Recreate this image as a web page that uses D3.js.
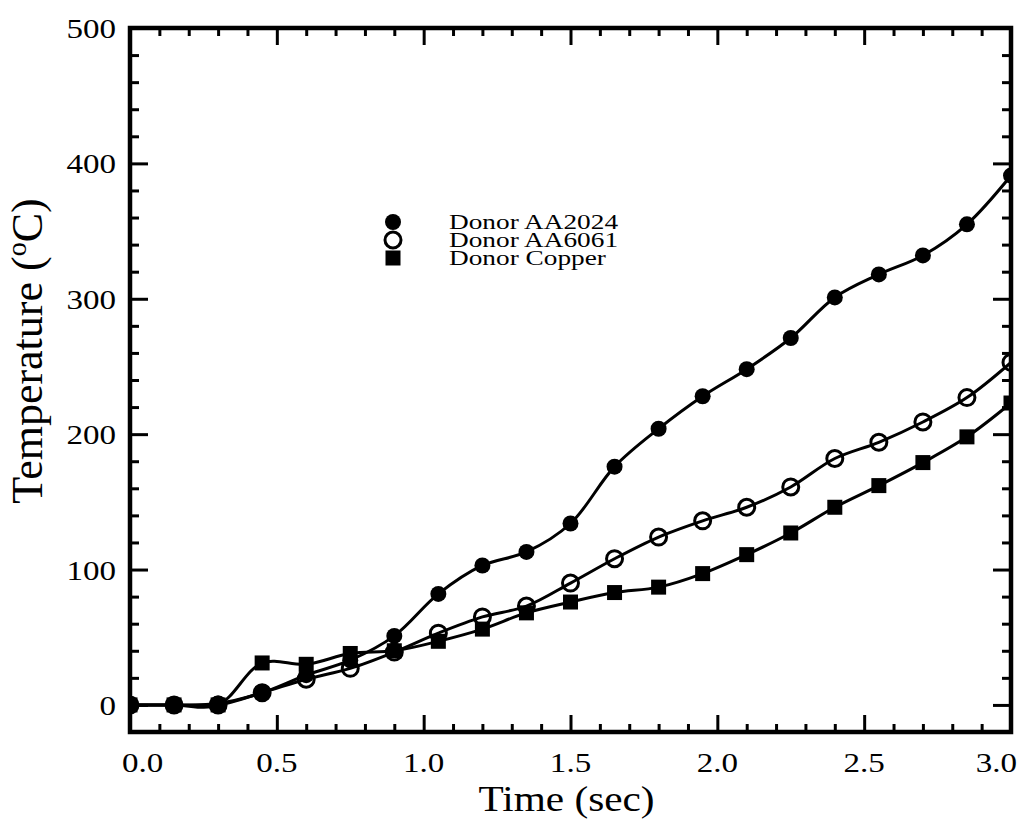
<!DOCTYPE html>
<html>
<head>
<meta charset="utf-8">
<script src="https://cdnjs.cloudflare.com/ajax/libs/d3/7.8.5/d3.min.js"></script>
<style>
  body { margin: 0; background: #fff; }
  svg { display: block; }
</style>
</head>
<body>
<div id="chart"></div>
<script>
// time (sec), sampled every 0.15 s
const times = [0, 0.15, 0.3, 0.45, 0.6, 0.75, 0.9, 1.05, 1.2, 1.35, 1.5, 1.65, 1.8, 1.95, 2.1, 2.25, 2.4, 2.55, 2.7, 2.85, 3.0];
// temperature (°C)
const aa2024 = [0, 0, 1, 9, 22, 33, 51, 82, 103, 113, 134, 176, 204, 228, 248, 271, 301, 318, 332, 355, 391];
const aa6061 = [0, 0, 0, 9, 19, 27, 39, 53, 65, 73, 90, 108, 124, 136, 146, 161, 182, 194, 209, 227, 253];
const copper = [0, 0, 0, 31, 30, 38, 40, 47, 56, 68, 76, 83, 87, 97, 111, 127, 146, 162, 179, 198, 223];

const seriesNames = ["Donor AA2024", "Donor AA6061", "Donor Copper"];
const xTickLabels = ["0.0", "0.5", "1.0", "1.5", "2.0", "2.5", "3.0"];
const yTickLabels = ["0", "100", "200", "300", "400", "500"];

const W = 1023, H = 828;
const margin = { top: 28, right: 12, bottom: 96, left: 130 };
const width = W - margin.left - margin.right;
const height = H - margin.top - margin.bottom;
const stretch = 1.18; // the original lettering is a bit wide
const serif = "Liberation Serif";

const svg = d3.select("#chart").append("svg")
    .attr("width", W).attr("height", H)
    .attr("font-family", serif);
const g = svg.append("g").attr("transform", `translate(${margin.left},${margin.top})`);

const x = d3.scaleLinear().domain([0, 3]).range([0, width]);
const y = d3.scaleLinear().domain([-20, 500]).range([height, 0]);

// ticks, all pointing inward
const xMinor = d3.range(0, 3.0001, 0.1).filter(v => Math.abs(v * 2 - Math.round(v * 2)) > 1e-6);
const xMajor = xTickLabels.map(Number);
const yMinor = d3.range(-20, 501, 20).filter(v => v % 100 !== 0);
const yMajor = yTickLabels.map(Number);

function tickGroup(axis, tr) {
    const a = g.append("g").attr("transform", tr).call(axis);
    a.select(".domain").remove();
    a.selectAll(".tick line").attr("stroke", "#000").attr("stroke-width", 3);
    a.selectAll(".tick text").remove();
}
tickGroup(d3.axisBottom(x).tickValues(xMinor).tickSize(-8), `translate(0,${height})`);
tickGroup(d3.axisBottom(x).tickValues(xMajor).tickSize(-17), `translate(0,${height})`);
tickGroup(d3.axisTop(x).tickValues(xMinor).tickSize(-8), "translate(0,0)");
tickGroup(d3.axisTop(x).tickValues(xMajor).tickSize(-17), "translate(0,0)");
tickGroup(d3.axisLeft(y).tickValues(yMinor).tickSize(-9), "translate(0,0)");
tickGroup(d3.axisLeft(y).tickValues(yMajor).tickSize(-18), "translate(0,0)");
tickGroup(d3.axisRight(y).tickValues(yMinor).tickSize(-9), `translate(${width},0)`);
tickGroup(d3.axisRight(y).tickValues(yMajor).tickSize(-18), `translate(${width},0)`);

// tick labels
xTickLabels.forEach((lab, i) => {
    let px = x(+lab), anchor = "middle";
    if (i === 0) { px = x(+lab) - 8; anchor = "start"; }
    if (i === xTickLabels.length - 1) { px = x(+lab) + 6; anchor = "end"; }
    g.append("text")
        .attr("transform", `translate(${px},${height + 40}) scale(${stretch},1)`)
        .attr("text-anchor", anchor)
        .attr("font-family", serif)
        .style("font-size", "28px")
        .text(lab);
});
yTickLabels.forEach(lab => {
    g.append("text")
        .attr("transform", `translate(-14,${y(+lab) + 10}) scale(${stretch},1)`)
        .attr("text-anchor", "end")
        .attr("font-family", serif)
        .style("font-size", "28px")
        .text(lab);
});

// axis titles
g.append("text")
    .attr("transform", `translate(${width / 2 - 4},${height + 79}) scale(${stretch},1)`)
    .attr("text-anchor", "middle")
    .attr("font-family", serif)
    .style("font-size", "35px")
    .text("Time (sec)");

const yt = g.append("text")
    .attr("transform", `translate(${-88},${351 - margin.top}) rotate(-90)`)
    .attr("text-anchor", "middle")
    .attr("font-family", serif)
    .style("font-size", "44px");
yt.append("tspan").text("Temperature (");
yt.append("tspan").attr("dy", -16).style("font-size", "28px").text("o");
yt.append("tspan").attr("dy", 16).text("C)");

// data
const series = [
    { name: seriesNames[0], values: aa2024, shape: "dot" },
    { name: seriesNames[1], values: aa6061, shape: "ring" },
    { name: seriesNames[2], values: copper, shape: "square" }
];

g.append("defs").append("clipPath").attr("id", "plot-clip")
  .append("rect").attr("width", width).attr("height", height);

const plot = g.append("g").attr("clip-path", "url(#plot-clip)");

const line = d3.line()
    .x((d, i) => x(times[i]))
    .y(d => y(d))
    .curve(d3.curveCatmullRom.alpha(0.5));

series.forEach(s => {
    plot.append("path")
        .datum(s.values)
        .attr("fill", "none")
        .attr("stroke", "#000")
        .attr("stroke-width", 3)
        .attr("d", line);
});

function drawMarker(sel, shape, cx, cy) {
    if (shape === "dot") {
        sel.append("circle").attr("cx", cx).attr("cy", cy).attr("r", 8).attr("fill", "#000");
    } else if (shape === "ring") {
        sel.append("circle").attr("cx", cx).attr("cy", cy).attr("r", 8)
            .attr("fill", "none").attr("stroke", "#000").attr("stroke-width", 3);
    } else {
        sel.append("rect").attr("x", cx - 7.5).attr("y", cy - 7.5)
            .attr("width", 15).attr("height", 15).attr("fill", "#000");
    }
}

series.forEach(s => {
    const mg = plot.append("g");
    s.values.forEach((v, i) => drawMarker(mg, s.shape, x(times[i]), y(v)));
});

// legend
const legendX = 263, legendY = 194;
series.forEach((s, i) => {
    const ly = legendY + i * 18;
    drawMarker(g, s.shape, legendX, ly);
    g.append("text")
        .attr("transform", `translate(${legendX + 56},${ly + 7}) scale(1.3,1)`)
        .attr("font-family", serif)
        .style("font-size", "21px")
        .text(s.name);
});

// frame
g.append("rect")
    .attr("width", width).attr("height", height)
    .attr("fill", "none").attr("stroke", "#000").attr("stroke-width", 4.5);
</script>
</body>
</html>
